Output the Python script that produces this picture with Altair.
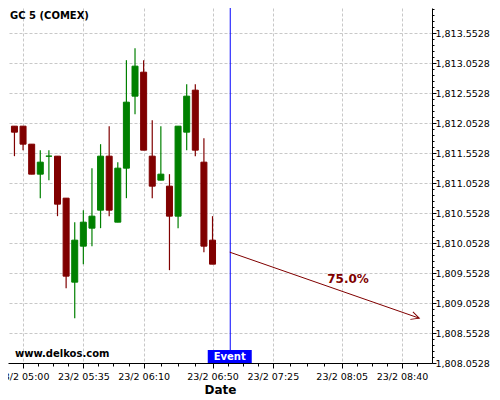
import math
import altair as alt
import pandas as pd

# ---------------- data ----------------
times = ["04:55", "05:00", "05:05", "05:10", "05:15", "05:20", "05:25", "05:30",
         "05:35", "05:40", "05:45", "05:50", "05:55", "06:00", "06:05", "06:10",
         "06:15", "06:20", "06:25", "06:30", "06:35", "06:40", "06:45", "06:50"]
opens = [1812.0, 1812.0, 1811.7, 1811.2, 1811.5, 1811.5, 1810.8, 1809.4,
         1810.0, 1810.3, 1810.6, 1811.5, 1810.4, 1811.3, 1812.5, 1812.9,
         1811.5, 1811.1, 1811.0, 1810.5, 1811.9, 1812.6, 1811.4, 1810.1]
highs = [1812.0, 1812.0, 1811.7, 1811.6, 1811.6, 1811.5, 1810.8, 1810.4,
         1810.6, 1811.3, 1811.7, 1812.0, 1811.4, 1813.1, 1813.3, 1813.1,
         1812.1, 1812.0, 1811.2, 1812.0, 1812.7, 1812.7, 1811.8, 1810.5]
lows = [1811.5, 1811.6, 1811.2, 1810.8, 1811.1, 1810.5, 1809.3, 1808.8,
        1809.7, 1810.0, 1810.3, 1810.5, 1810.4, 1810.8, 1812.2, 1811.6,
        1810.8, 1811.1, 1809.6, 1810.3, 1811.6, 1811.5, 1809.9, 1809.7]
closes = [1811.9, 1811.7, 1811.2, 1811.4, 1811.5, 1810.7, 1809.5, 1810.1,
          1810.4, 1810.5, 1811.5, 1810.6, 1811.3, 1812.4, 1813.0, 1811.6,
          1811.0, 1811.2, 1810.5, 1812.0, 1812.5, 1811.6, 1810.0, 1809.7]

x_tick_times = ["05:00", "05:35", "06:10", "06:50", "07:25", "08:05", "08:40"]
x_tick_labels = ["23/2 05:00", "23/2 05:35", "23/2 06:10", "23/2 06:50",
                 "23/2 07:25", "23/2 08:05", "23/2 08:40"]
y_tick_base = 1808.0528
y_tick_step = 0.1

event_time = "07:00"
event_label = "Event"
arrow_times = ["07:00", "08:50"]
arrow_prices = [1809.9, 1808.8]
arrow_text = "75.0%"
chart_title = "GC 5 (COMEX)"
watermark = "www.delkos.com"

# ---------------- helpers / layout ----------------
def mins(s):
    h, m = s.split(":")
    return int(h) * 60 + int(m)

W, H = 424, 355
X_DOMAIN = [294.16, 534.52]
Y_DOMAIN = [1808.0528, 1813.9695]
PX_PER_MIN = W / (X_DOMAIN[1] - X_DOMAIN[0])
PX_PER_UNIT = H / (Y_DOMAIN[1] - Y_DOMAIN[0])

RED = "#800000"
GREEN = "#008000"
FONT = "DejaVu Sans"

xs = alt.Scale(domain=X_DOMAIN, nice=False, zero=False)
ys = alt.Scale(domain=Y_DOMAIN, nice=False, zero=False)
cscale = alt.Scale(domain=["up", "down"], range=[GREEN, RED])

majors = [mins(t) for t in x_tick_times]
minors = []
for a, b in zip(majors[:-1], majors[1:]):
    minors += [a + (b - a) * q / 4 for q in (1, 2, 3)]
last_step = (majors[-1] - majors[-2]) / 4
minors.append(majors[-1] + last_step)
x_values = sorted(majors + minors)
x_major_test = f"indexof({majors}, datum.value) >= 0"
x_label_expr = (f"{x_major_test} ? {x_tick_labels}[indexof({majors}, datum.value)] : ''")

y_values = []
k = 0
while y_tick_base + k * y_tick_step <= Y_DOMAIN[1]:
    y_values.append(round(y_tick_base + k * y_tick_step, 4))
    k += 1
y_major_test = (f"abs((datum.value - {y_tick_base}) * 2 - "
                f"round((datum.value - {y_tick_base}) * 2)) < 0.01")
y_label_expr = f"{y_major_test} ? format(datum.value, ',.4f') : ''"

xaxis = alt.Axis(
    values=x_values, labelExpr=x_label_expr, labelOverlap=False,
    tickSize={"condition": {"test": x_major_test, "value": 5}, "value": 3},
    gridOpacity={"condition": {"test": x_major_test, "value": 1}, "value": 0},
    gridDash=[3, 2], gridColor="#c8c8c8", gridWidth=1,
    domainColor="black", tickColor="black",
    labelFont=FONT, labelFontSize=9.5, labelColor="black", labelPadding=3,
    title="Date", titleFont=FONT, titleFontSize=12, titleFontWeight="bold",
    titleColor="black", titlePadding=4,
)
yaxis = alt.Axis(
    orient="right", values=y_values, labelExpr=y_label_expr, labelOverlap=False,
    tickSize={"condition": {"test": y_major_test, "value": 4}, "value": 2},
    gridOpacity={"condition": {"test": y_major_test, "value": 1}, "value": 0},
    gridDash=[3, 2], gridColor="#c8c8c8", gridWidth=1,
    domainColor="black", tickColor="black",
    labelFont=FONT, labelFontSize=9.5, labelColor="black", labelPadding=-1,
    title=None,
)

def X(field):
    return alt.X(field, scale=xs, axis=xaxis)

def Y(field):
    return alt.Y(field, scale=ys, axis=yaxis)

cdf = pd.DataFrame({
    "t": [mins(t) for t in times],
    "open": opens, "high": highs, "low": lows, "close": closes,
})
cdf["dir"] = ["up" if c >= o else "down" for o, c in zip(opens, closes)]

edf = pd.DataFrame({"t": [mins(event_time)], "label": [event_label]})
adf = pd.DataFrame({"t": [mins(t) for t in arrow_times], "p": arrow_prices})

dx = (adf["t"][1] - adf["t"][0]) * PX_PER_MIN
dy = (adf["p"][0] - adf["p"][1]) * PX_PER_UNIT
head_angle = math.degrees(math.atan2(dy, dx))

# ---------------- layers ----------------
wicks = alt.Chart(cdf).mark_rule(strokeWidth=1.2).encode(
    x=X("t:Q"), y=Y("low:Q"), y2="high:Q",
    color=alt.Color("dir:N", scale=cscale, legend=None),
)
bodies = alt.Chart(cdf).mark_bar(size=6, strokeWidth=1).encode(
    x=X("t:Q"), y=Y("open:Q"), y2="close:Q",
    fill=alt.Fill("dir:N", scale=cscale, legend=None),
    stroke=alt.Stroke("dir:N", scale=cscale, legend=None),
)
event_rule = alt.Chart(edf).mark_rule(color="#0000ff", strokeWidth=1, xOffset=0.5).encode(
    x=X("t:Q"),
)
event_box = alt.Chart(edf).mark_rect(color="#0000ff", xOffset=-22, x2Offset=22).encode(
    x=X("t:Q"), x2="t:Q",
    y=alt.value(342), y2=alt.value(355),
)
event_text = alt.Chart(edf).mark_text(
    color="white", font=FONT, fontSize=10, fontWeight="bold",
    align="center", baseline="middle",
).encode(x=X("t:Q"), y=alt.value(349), text="label:N")

arrow_line = alt.Chart(adf).mark_line(color=RED, strokeWidth=1).encode(
    x=X("t:Q"), y=Y("p:Q"),
)
arrow_head = alt.Chart(adf.iloc[[1]]).mark_point(
    shape="M-1,-0.5L0,0L-1,0.5", size=256, angle=head_angle,
    filled=False, color=RED, strokeWidth=1, opacity=1,
).encode(x=X("t:Q"), y=Y("p:Q"))
pct_text = alt.Chart(pd.DataFrame({"s": [arrow_text]})).mark_text(
    color=RED, font=FONT, fontSize=12, fontWeight="bold",
    align="center", baseline="middle",
).encode(x=alt.value(340), y=alt.value(271), text="s:N")

title_text = alt.Chart(pd.DataFrame({"s": [chart_title]})).mark_text(
    color="black", font=FONT, fontSize=10, fontWeight="bold",
    align="left", baseline="middle",
).encode(x=alt.value(2), y=alt.value(8), text="s:N")
wm_text = alt.Chart(pd.DataFrame({"s": [watermark]})).mark_text(
    color="black", font=FONT, fontSize=10, fontWeight="bold",
    align="left", baseline="middle",
).encode(x=alt.value(7), y=alt.value(346), text="s:N")

chart = alt.layer(
    wicks, bodies, event_rule, arrow_line, arrow_head, pct_text,
    event_box, event_text, title_text, wm_text,
).properties(
    width=W, height=H,
    autosize=alt.AutoSizeParams(type="none"),
    padding={"left": 0, "top": 0, "right": 60, "bottom": 37},
    background="white",
).configure_view(stroke=None)

chart.save("out.html", embed_options={"renderer": "svg", "actions": False})
